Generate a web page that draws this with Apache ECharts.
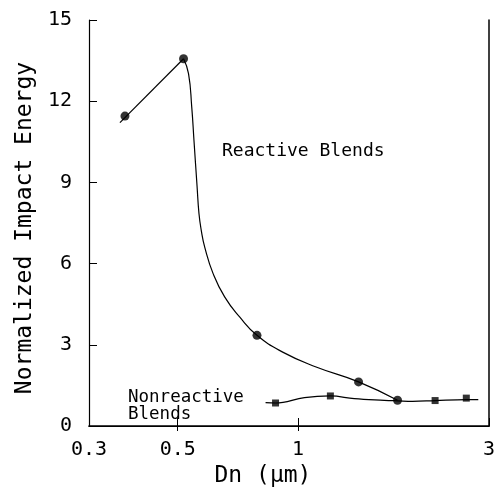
<!DOCTYPE html>
<html>
<head>
<meta charset="utf-8">
<script src="https://cdn.jsdelivr.net/npm/echarts@6/dist/echarts.min.js"></script>
<style>
  html, body { margin: 0; padding: 0; background: #fff; }
  #chart { width: 498px; height: 494px; }
</style>
</head>
<body>
<div id="chart"></div>
<script>
// Measured blends: particle diameter Dn (µm) vs normalized impact energy
const reactiveD = [0.369, 0.517, 0.789, 1.416, 1.772];
const reactiveE = [11.45, 13.57, 3.35, 1.63, 0.95];
const nonreactiveD = [0.878, 1.204, 2.2, 2.633];
const nonreactiveE = [0.85, 1.11, 0.94, 1.03];

// Fitted trend curves (reactive: straight rise, then smooth fall-off)
const reactiveRiseD = [0.3585, 0.517];
const reactiveRiseE = [11.21, 13.57];
const reactiveFallD = [0.517, 0.532, 0.542, 0.549, 0.559, 0.565, 0.5725, 0.584, 0.613, 0.655, 0.714, 0.789, 0.915, 1.109, 1.416, 1.772];
const reactiveFallE = [13.57, 13.02, 11.78, 10.55, 8.83, 7.85, 7.23, 6.61, 5.63, 4.77, 4.03, 3.35, 2.73, 2.18, 1.63, 0.95];
const nonreactiveFitD = [0.829, 0.878, 1.037, 1.204, 1.382, 1.642, 1.772, 1.932, 2.2, 2.633, 2.821];
const nonreactiveFitE = [0.86, 0.85, 1.05, 1.11, 1.01, 0.95, 0.93, 0.91, 0.94, 0.975, 0.975];

// Axis ticks
const xTicks = [0.3, 0.5, 1, 3];
const xTopTicks = [0.5, 1];
const yTicks = [0, 3, 6, 9, 12, 15];

const pair = (xs, ys) => xs.map((x, i) => [x, ys[i]]);
const FONT = '"DejaVu Sans Mono", monospace';
const INK = '#000';

const chart = echarts.init(document.getElementById('chart'), null, { renderer: 'canvas' });

const fmtX = v => String(+Number(v).toPrecision(3));

// negative tick length draws the ticks into the plotting area
chart.setOption({
  animation: false,
  backgroundColor: '#fff',
  grid: { left: 89, right: 8, top: 20, bottom: 68 },
  xAxis: [
    {
      type: 'log', logBase: 10, min: 0.3, max: 3,
      position: 'bottom',
      name: 'Dn (\u00b5m)', nameLocation: 'middle', nameGap: 39,
      nameTextStyle: { fontFamily: FONT, fontSize: 23, color: INK, padding: [0, 52, 0, 0] },
      axisLine: { show: true, lineStyle: { color: INK, width: 1.5 } },
      axisTick: { show: true, length: -8, customValues: xTicks, lineStyle: { color: INK } },
      minorTick: { show: false },
      axisLabel: { customValues: xTicks, formatter: fmtX, margin: 14, fontFamily: FONT, fontSize: 20, color: INK },
      splitLine: { show: false }
    },
    {
      type: 'log', logBase: 10, min: 0.3, max: 3,
      position: 'top',
      axisLine: { show: true, lineStyle: { color: INK, width: 1.2 } },
      axisTick: { show: true, length: -5, customValues: xTopTicks, lineStyle: { color: INK } },
      axisLabel: { show: false },
      splitLine: { show: false }
    }
  ],
  yAxis: [
    {
      type: 'value', min: 0, max: 15, interval: 3,
      position: 'left',
      name: 'Normalized Impact Energy', nameLocation: 'middle', nameGap: 52,
      nameTextStyle: { fontFamily: FONT, fontSize: 23, color: INK, padding: [0, 10, 0, 0] },
      axisLine: { show: true, lineStyle: { color: INK, width: 1.2 } },
      axisTick: { show: true, length: -8, lineStyle: { color: INK } },
      axisLabel: { margin: 17, fontFamily: FONT, fontSize: 20, color: INK,
                   formatter: v => (yTicks.indexOf(v) >= 0 ? String(v) : '') },
      splitLine: { show: false }
    },
    {
      type: 'value', min: 0, max: 15, interval: 3,
      position: 'right',
      axisLine: { show: true, lineStyle: { color: INK, width: 1.5 } },
      axisTick: { show: false },
      axisLabel: { show: false },
      splitLine: { show: false }
    }
  ],
  series: [
    {
      name: 'Reactive rise', type: 'line', data: pair(reactiveRiseD, reactiveRiseE),
      smooth: false, showSymbol: false, symbol: 'none',
      lineStyle: { color: INK, width: 1.2 }, z: 2
    },
    {
      name: 'Reactive fall', type: 'line', data: pair(reactiveFallD, reactiveFallE),
      smooth: 0.5, showSymbol: false, symbol: 'none',
      lineStyle: { color: INK, width: 1.2 }, z: 2
    },
    {
      name: 'Nonreactive fit', type: 'line', data: pair(nonreactiveFitD, nonreactiveFitE),
      smooth: 0.4, showSymbol: false, symbol: 'none',
      lineStyle: { color: INK, width: 1.2 }, z: 2
    },
    {
      name: 'Reactive Blends', type: 'scatter', data: pair(reactiveD, reactiveE),
      symbol: 'circle', symbolSize: 9, itemStyle: { color: INK }, z: 3
    },
    {
      name: 'Nonreactive Blends', type: 'scatter', data: pair(nonreactiveD, nonreactiveE),
      symbol: 'rect', symbolSize: 7, itemStyle: { color: INK }, z: 3
    }
  ],
  graphic: [
    {
      type: 'text', left: 222, top: 142,
      style: { text: 'Reactive Blends', fontFamily: FONT, fontSize: 18, fill: INK }
    },
    {
      type: 'text', left: 128, top: 388,
      style: { text: 'Nonreactive\nBlends', fontFamily: FONT, fontSize: 17.5, lineHeight: 17.5, fill: INK }
    }
  ]
});
</script>
</body>
</html>
